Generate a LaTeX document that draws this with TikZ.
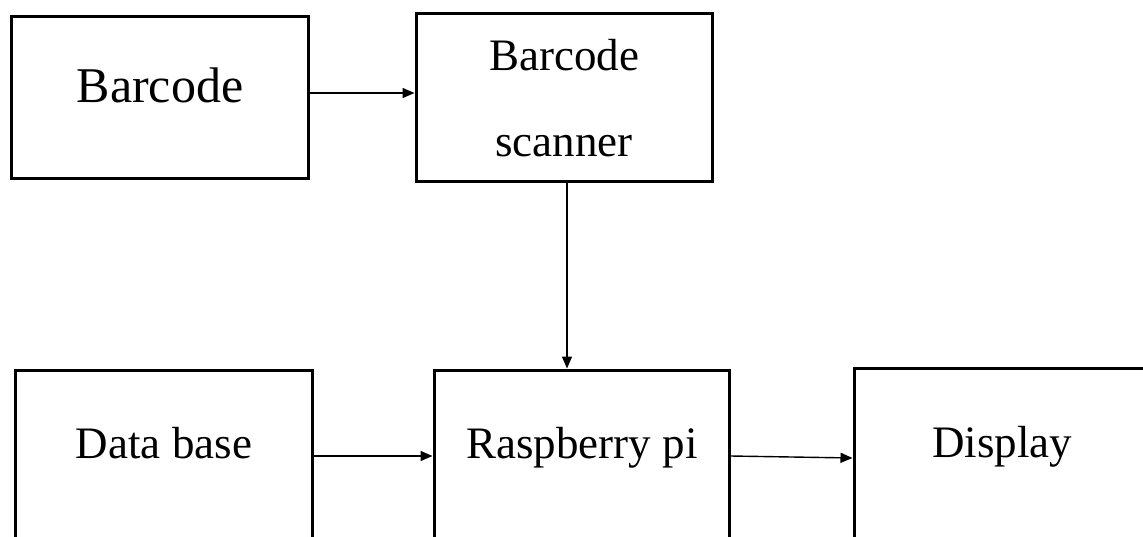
\documentclass[tikz,border=0pt]{standalone}
\usepackage{fontspec}
\setmainfont{Liberation Serif}
\usetikzlibrary{arrows.meta}
\tikzset{
  blk/.style={draw, line width=3pt, inner sep=0pt},
  txt/.style={anchor=base, inner sep=0pt, font=\fontsize{45}{50}\selectfont},
  link/.style={line width=1.4pt, -{Triangle[length=12pt, width=10pt]}}
}
\begin{document}
\begin{tikzpicture}[x=1pt, y=-1pt]
  \clip (0,0) rectangle (1143,537);
  \fill[white] (0,0) rectangle (1143,537);
  % blocks
  \node[blk, minimum width=297pt, minimum height=162pt] (barcode) at (159.5,98) {};
  \node[blk, minimum width=296pt, minimum height=168pt] (scanner) at (564,98) {};
  \node[blk, minimum width=297pt, minimum height=190pt] (db) at (163.5,465) {};
  \node[blk, minimum width=295pt, minimum height=190pt] (rpi) at (581.5,465) {};
  \node[blk, minimum width=306pt, minimum height=194pt] (disp) at (1007,465) {};
  % labels
  \node[txt, font=\fontsize{50}{55}\selectfont] (barcodetxt) at (160,103) {Barcode};
  \node[txt] (scantxta) at (564,71) {Barcode};
  \node[txt] (scantxtb) at (564,157) {scanner};
  \node[txt] (dbtxt) at (164,458) {Data base};
  \node[txt] (rpitxt) at (582,458) {Raspberry pi};
  \node[txt] (disptxt) at (1002,457) {Display};
  % links
  \draw[link] ([yshift=5pt]barcode.east) -- ([yshift=5pt]scanner.west);
  \draw[link] ([xshift=3pt]scanner.south) -- ([xshift=3pt]scanner.south |- rpi.north);
  \draw[link] ([yshift=9pt]db.east) -- ([yshift=9pt]rpi.west);
  \draw[link] ([yshift=9pt]rpi.east) -- ([yshift=7pt]disp.west);
\end{tikzpicture}
\end{document}
